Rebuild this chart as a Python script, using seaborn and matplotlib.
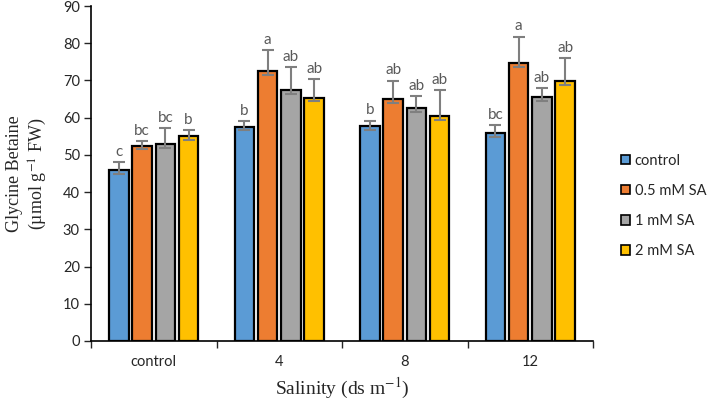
import numpy as np
import pandas as pd
import matplotlib
matplotlib.use("Agg")
import matplotlib.pyplot as plt
import seaborn as sns

# -----------------------------
# Data
# -----------------------------
salinity = ["control", "4", "8", "12"]
treatments = ["control", "0.5 mM SA", "1 mM SA", "2 mM SA"]

gb_control = [45.9, 57.6, 57.8, 55.9]
gb_05sa = [52.5, 72.5, 65.0, 74.6]
gb_1sa = [52.8, 67.4, 62.5, 65.6]
gb_2sa = [55.1, 65.4, 60.5, 69.9]

err_control = [2.2, 1.4, 1.4, 2.0]
err_05sa = [1.2, 5.6, 4.9, 7.2]
err_1sa = [4.4, 6.2, 3.3, 2.3]
err_2sa = [1.5, 4.9, 6.8, 6.0]

letters_control = ["c", "b", "b", "bc"]
letters_05sa = ["bc", "a", "ab", "a"]
letters_1sa = ["bc", "ab", "ab", "ab"]
letters_2sa = ["b", "ab", "ab", "ab"]

colors = ["#5B9BD5", "#ED7D31", "#A5A5A5", "#FFC000"]

values = [gb_control, gb_05sa, gb_1sa, gb_2sa]
errors = [err_control, err_05sa, err_1sa, err_2sa]
letters = [letters_control, letters_05sa, letters_1sa, letters_2sa]

rows = []
for t, vals, errs, labs in zip(treatments, values, errors, letters):
    for s, v, e, l in zip(salinity, vals, errs, labs):
        rows.append({"Salinity": s, "Treatment": t, "GB": v, "err": e, "letter": l})
df = pd.DataFrame(rows)

# -----------------------------
# Plot
# -----------------------------
sns.set_style("white")
plt.rcParams["font.family"] = ["Lato", "DejaVu Sans"]
plt.rcParams["mathtext.fontset"] = "stix"

fig = plt.figure(figsize=(7.10, 4.01), dpi=100)
ax = fig.add_axes([91 / 710, 1 - 341 / 401, (593 - 91) / 710, (341 - 6) / 401])

sns.barplot(
    data=df, x="Salinity", y="GB", hue="Treatment",
    order=salinity, hue_order=treatments, palette=colors, saturation=1,
    errorbar=None, width=0.74, gap=0.16,
    edgecolor="black", linewidth=1.6, ax=ax,
)

# error bars and significance letters
for i, t in enumerate(treatments):
    bars = ax.containers[i]
    sub = df[df["Treatment"] == t].set_index("Salinity").loc[salinity]
    for bar, (_, r) in zip(bars, sub.iterrows()):
        xc = bar.get_x() + bar.get_width() / 2
        h = bar.get_height()
        ax.errorbar(xc, h, yerr=[[min(1.0, r["err"])], [r["err"]]],
                    fmt="none", ecolor="#7F7F7F", elinewidth=1.5,
                    capsize=4, capthick=1.5, zorder=5)
        ax.text(xc, h + r["err"] + 0.9, r["letter"], ha="center", va="bottom",
                fontsize=11, color="#595959")

ax.set_ylim(0, 90)
ax.set_xlim(-0.5, 3.5)
ax.set_yticks(range(0, 91, 10))
ax.tick_params(axis="y", labelsize=10.5, length=5, width=1, direction="out",
               left=True, pad=3)
ax.tick_params(axis="x", labelsize=10.5, length=0, pad=10)
ax.set_xticks([-0.5, 0.5, 1.5, 2.5, 3.5], minor=True)
ax.tick_params(axis="x", which="minor", length=5, width=1, direction="out",
               bottom=True)

for side in ["top", "right"]:
    ax.spines[side].set_visible(False)
for side in ["left", "bottom"]:
    ax.spines[side].set_color("black")
    ax.spines[side].set_linewidth(1.2)

ax.set_xlabel(r"Salinity (ds m$^{\mathrm{-1}}$)", family="Liberation Serif",
              fontsize=14, labelpad=5)
ax.set_ylabel("Glycine Betaine\n" + r"(µmol g$^{\mathrm{-1}}$ FW)",
              family="Liberation Serif", fontsize=13, labelpad=10)

leg = ax.legend(loc="center left", bbox_to_anchor=(1.045, 0.403), frameon=False,
                fontsize=10.5, handlelength=0.6, handleheight=0.6,
                labelspacing=1.1, handletextpad=0.3, borderaxespad=0)
for h in leg.legend_handles:
    h.set_edgecolor("black")
    h.set_linewidth(1.2)

fig.savefig("out.png", dpi=100)
